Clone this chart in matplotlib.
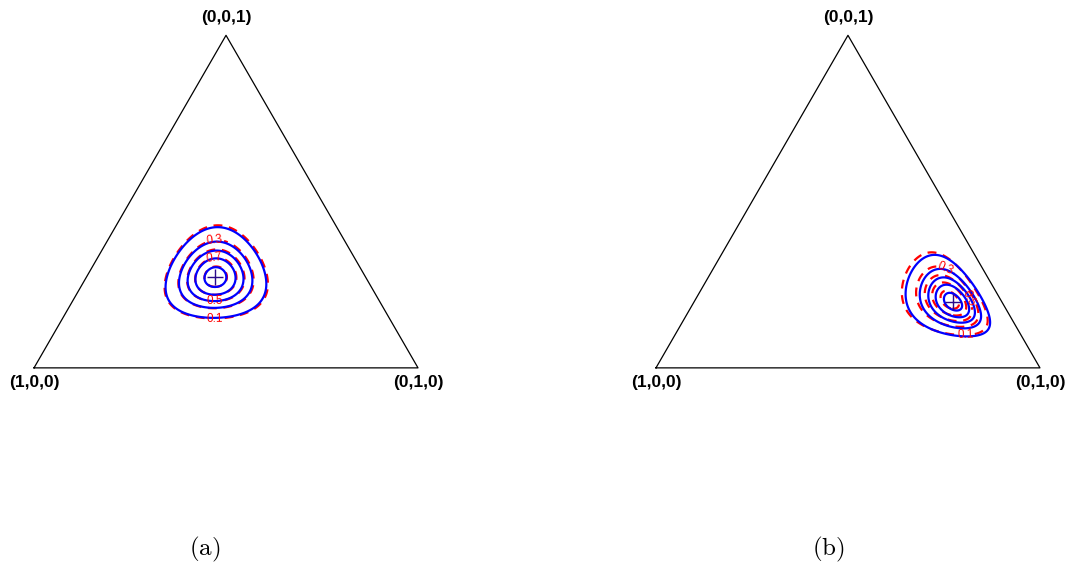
import matplotlib.pyplot as plt
import numpy as np

plt.rcParams['mathtext.fontset'] = 'cm'

# Dirichlet parameters (blue = solid, red = dashed)
alpha_a_blue = np.array([19.4, 16.8, 13.8])
alpha_a_red = np.array([18.4, 16.0, 13.2])
alpha_b_blue = np.array([6.95, 32.7, 10.3])
alpha_b_red = np.array([7.15, 31.9, 10.5])

levels = [0.1, 0.3, 0.5, 0.7, 0.9]
# red labels: level -> where it sits (cartesian simplex coords)
labels_a = {0.1: (0.471, 0.138), 0.3: (0.471, 0.323),
            0.5: (0.471, 0.182), 0.7: (0.471, 0.273)}
labels_b = {0.1: (0.805, 0.094), 0.3: (0.745, 0.240), 0.5: (0.818, 0.182)}

vertex_labels = ['(1,0,0)', '(0,1,0)', '(0,0,1)']
captions = ['(a)', '(b)']

H = np.sqrt(3) / 2
corners = np.array([[0, 0], [1, 0], [0.5, H]])

gx, gy = np.meshgrid(np.linspace(0, 1, 500), np.linspace(0, H, 450))
c3 = gy / H
c2 = gx - c3 / 2
c1 = 1 - c2 - c3
inside = (c1 > 1e-6) & (c2 > 1e-6) & (c3 > 1e-6)


def rel_density(alpha):
    mode = (alpha - 1) / (alpha.sum() - 3)
    with np.errstate(divide='ignore', invalid='ignore'):
        logd = ((alpha[0] - 1) * np.log(c1) + (alpha[1] - 1) * np.log(c2)
                + (alpha[2] - 1) * np.log(c3))
    logmax = np.sum((alpha - 1) * np.log(mode))
    d = np.where(inside, np.exp(logd - logmax), 0.0)
    return d, mode


def panel(ax, a_blue, a_red, labels):
    tri = np.vstack([corners, corners[:1]])
    ax.plot(tri[:, 0], tri[:, 1], color='black', lw=0.9)
    kw = dict(ha='center', va='center', fontsize=12.5, fontweight='bold',
              family='Liberation Sans')
    ax.text(0, -0.039, vertex_labels[0], **kw)
    ax.text(1, -0.039, vertex_labels[1], **kw)
    ax.text(0.5, H + 0.047, vertex_labels[2], **kw)

    # red dashed, one level at a time so each label lands on its own curve
    d_red, _ = rel_density(a_red)
    for lev in levels:
        cs = ax.contour(gx, gy, d_red, levels=[lev], colors='red',
                        linewidths=1.6, linestyles=[(0, (4, 3))])
        if lev in labels:
            ax.clabel(cs, manual=[labels[lev]], inline=True, inline_spacing=2,
                      fontsize=8.5, colors='red', fmt='%.1f')
            for t in cs.labelTexts:
                t.set_family('Liberation Sans')

    d_blue, mode = rel_density(a_blue)
    ax.contour(gx, gy, d_blue, levels=levels, colors='blue', linewidths=1.6)

    mx = mode[1] + mode[2] / 2
    my = mode[2] * H
    ax.plot(mx, my, marker='+', color='#2a0a8a', markersize=12, mew=1.0)

    ax.set_xlim(-0.08, 1.08)
    ax.set_ylim(-0.12, 0.95)
    ax.set_aspect('equal')
    ax.axis('off')


fig = plt.figure(figsize=(10.71, 5.66), dpi=100)
ax1 = fig.add_axes([0.00308, 0.2686, 0.4159, 0.726])
ax2 = fig.add_axes([0.5838, 0.2686, 0.4159, 0.726])

panel(ax1, alpha_a_blue, alpha_a_red, labels_a)
panel(ax2, alpha_b_blue, alpha_b_red, labels_b)

fig.text(205 / 1071, 1 - 549 / 566, r'$\mathrm{' + captions[0] + '}$',
         ha='center', va='center', fontsize=18)
fig.text(828 / 1071, 1 - 549 / 566, r'$\mathrm{' + captions[1] + '}$',
         ha='center', va='center', fontsize=18)

fig.savefig('out.png', dpi=100)
